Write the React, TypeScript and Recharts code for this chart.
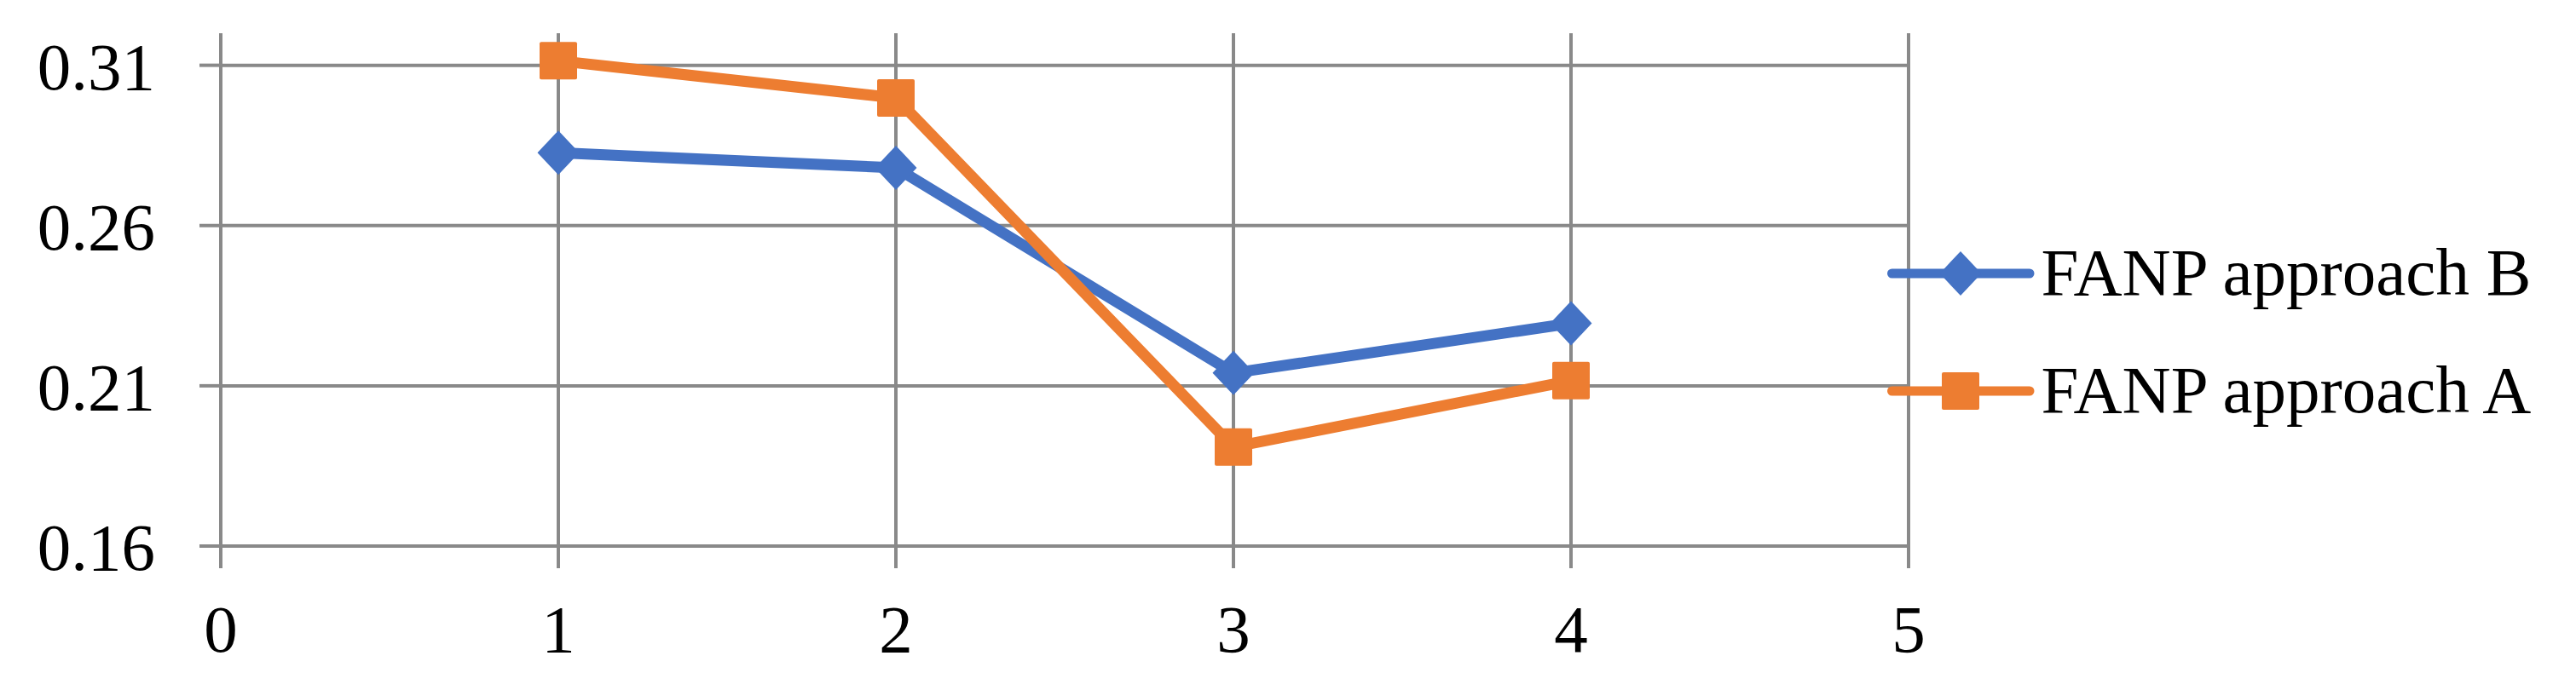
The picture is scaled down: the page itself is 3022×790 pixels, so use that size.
import React from "react";
import { LineChart, Line, XAxis, YAxis, CartesianGrid } from "recharts";

const xValues = [1, 2, 3, 4];
const approachB = [0.2827, 0.278, 0.214, 0.2295];
const approachA = [0.3114, 0.2998, 0.1909, 0.2116];
const xTicks = [0, 1, 2, 3, 4, 5];
const yTicks = [0.16, 0.21, 0.26, 0.31];
const yDomain = [0.16, 0.32];
const seriesNames = ["FANP approach B", "FANP approach A"];

const BLUE = "#4472C4";
const ORANGE = "#ED7D31";
const GRID = "#898989";
const FONT = "'Liberation Serif', 'Times New Roman', serif";

const data = xValues.map((x, i) => ({ x, b: approachB[i], a: approachA[i] }));

const Diamond = ({ cx, cy, color }: any) => (
  <polygon
    points={`${cx},${cy - 26} ${cx + 24.5},${cy} ${cx},${cy + 26} ${cx - 24.5},${cy}`}
    fill={color}
  />
);
const Square = ({ cx, cy, color }: any) => (
  <rect x={cx - 22} y={cy - 22} width={44} height={44} rx={2} fill={color} />
);

const LegendBox = () => (
  <svg width={800} height={270} style={{ position: "absolute", left: 2210, top: 250, display: "block" }}>
    <line x1={9.5} y1={71} x2={171} y2={71} stroke={BLUE} strokeWidth={11} strokeLinecap="round" />
    <Diamond cx={90} cy={71} color={BLUE} />
    <text x={184.5} y={96} fontFamily={FONT} fontSize={79} fill="#000">{seriesNames[0]}</text>
    <line x1={9.5} y1={209} x2={171} y2={209} stroke={ORANGE} strokeWidth={11} strokeLinecap="round" />
    <Square cx={90} cy={209} color={ORANGE} />
    <text x={184.5} y={234} fontFamily={FONT} fontSize={79} fill="#000">{seriesNames[1]}</text>
  </svg>
);

export default function App() {
  const tickStyle = { fontFamily: FONT, fontSize: 79, fill: "#000" };
  const hGen = (args: any) => {
    const yAxis = args && args.yAxis;
    if (yAxis && typeof yAxis.scale === "function") return yTicks.map((t) => yAxis.scale(t));
    const offset = args.offset || {};
    const top = offset.top ?? 39;
    const h = offset.height ?? 602;
    return yTicks.map((t) => top + (h * (yDomain[1] - t)) / (yDomain[1] - yDomain[0]));
  };
  return (
    <div style={{ position: "absolute", left: 0, top: 0, width: 3022, height: 790, background: "#fff" }}>
      <LineChart width={3022} height={790} data={data} margin={{ top: 39, right: 783, bottom: 0, left: 0 }}>
        <CartesianGrid stroke={GRID} strokeWidth={4} horizontalCoordinatesGenerator={hGen} />
        <XAxis
          dataKey="x"
          type="number"
          domain={[0, 5]}
          ticks={xTicks}
          axisLine={false}
          tickLine={{ stroke: GRID, strokeWidth: 4 }}
          tickSize={26}
          tickMargin={42}
          height={149}
          tick={tickStyle}
          interval={0}
        />
        <YAxis
          type="number"
          domain={yDomain}
          ticks={yTicks}
          allowDataOverflow
          axisLine={false}
          tickLine={{ stroke: GRID, strokeWidth: 4 }}
          tickSize={25}
          tickMargin={52}
          width={259}
          tick={tickStyle}
          interval={0}
        />
        <Line
          dataKey="b"
          name={seriesNames[0]}
          stroke={BLUE}
          strokeWidth={13}
          isAnimationActive={false}
          activeDot={false}
          dot={(p: any) => <Diamond key={`b${p.index}`} cx={p.cx} cy={p.cy} color={BLUE} />}
        />
        <Line
          dataKey="a"
          name={seriesNames[1]}
          stroke={ORANGE}
          strokeWidth={13}
          isAnimationActive={false}
          activeDot={false}
          dot={(p: any) => <Square key={`a${p.index}`} cx={p.cx} cy={p.cy} color={ORANGE} />}
        />
      </LineChart>
      <LegendBox />
    </div>
  );
}
